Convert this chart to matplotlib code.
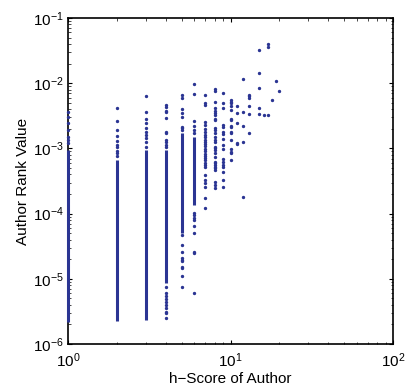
import matplotlib
matplotlib.use("Agg")
import matplotlib.pyplot as plt
from matplotlib.ticker import LogLocator, NullFormatter

plt.rcParams['font.family'] = ['Liberation Sans', 'DejaVu Sans']
plt.rcParams['mathtext.fontset'] = 'custom'
plt.rcParams['mathtext.rm'] = 'Liberation Sans'
plt.rcParams['mathtext.it'] = 'Liberation Sans'

# h-score columns where authors pile up so densely they read as a solid bar
dense_h = [1, 2, 3, 4, 5, 6]
dense_lo = [2.2e-6, 2.25e-6, 2.33e-6, 8.6e-6, 5.0e-5, 1.35e-4]
dense_hi = [9.4e-4, 6.6e-4, 9.4e-4, 9.4e-4, 1.7e-3, 1.5e-3]

# single authors, one list per h-score
rank_h1 = [3.62e-3, 3.03e-3, 2.45e-3, 1.92e-3, 1.50e-3, 1.35e-3, 1.21e-3]
rank_h2 = [4.16e-3, 2.63e-3, 1.92e-3, 1.55e-3, 1.30e-3, 1.13e-3, 1.05e-3,
           9.12e-4, 8.50e-4, 7.64e-4]
rank_h3 = [6.36e-3, 3.62e-3, 2.82e-3, 2.45e-3, 2.06e-3, 1.78e-3, 1.61e-3,
           1.44e-3, 1.25e-3, 1.05e-3]
rank_h4 = [4.63e-3, 4.32e-3, 3.75e-3, 3.62e-3, 2.93e-3, 1.78e-3, 1.72e-3,
           1.35e-3, 1.25e-3, 1.13e-3, 1.05e-3,
           7.48e-6, 6.06e-6, 5.45e-6, 4.90e-6, 4.41e-6, 3.96e-6, 3.57e-6,
           3.10e-6, 2.99e-6, 2.51e-6]
rank_h5 = [6.59e-3, 5.93e-3, 4.02e-3, 3.49e-3, 3.03e-3, 2.13e-3, 2.06e-3,
           1.92e-3, 4.70e-5, 3.30e-5, 2.58e-5, 2.08e-5, 1.94e-5, 1.87e-5,
           1.52e-5, 1.46e-5, 1.10e-5, 7.48e-6]
rank_h6 = [9.72e-3, 6.83e-3, 2.63e-3, 2.21e-3, 1.92e-3, 1.72e-3,
           1.02e-4, 9.52e-5, 8.56e-5, 7.97e-5, 6.45e-5, 5.04e-5, 2.58e-5,
           2.49e-5, 6.06e-6]
rank_h7 = [6.59e-3, 4.97e-3, 4.63e-3, 2.54e-3, 2.28e-3, 1.98e-3, 1.78e-3,
           1.61e-3, 1.50e-3, 1.35e-3, 1.25e-3, 1.17e-3, 1.09e-3, 9.79e-4,
           9.12e-4, 8.21e-4, 7.64e-4, 7.13e-4, 6.64e-4, 5.97e-4, 5.56e-4,
           5.18e-4, 3.91e-4, 3.28e-4, 2.95e-4, 2.56e-4, 1.74e-4, 1.22e-4]
rank_h8 = [8.15e-3, 7.59e-3, 5.15e-3, 4.16e-3, 3.75e-3, 3.49e-3, 3.25e-3,
           2.82e-3, 2.73e-3, 2.06e-3, 1.92e-3, 1.72e-3, 1.50e-3, 1.35e-3,
           1.25e-3, 1.05e-3, 1.01e-3, 9.4e-4, 8.50e-4, 7.38e-4, 6.18e-4,
           5.97e-4, 5.56e-4, 5.18e-4, 5.00e-4, 4.66e-4, 3.05e-4, 2.75e-4,
           2.47e-4]
rank_h9 = [7.07e-3, 4.97e-3, 4.16e-3, 2.28e-3, 2.13e-3, 1.78e-3, 1.66e-3,
           1.39e-3, 1.13e-3, 9.79e-4, 6.88e-4, 6.18e-4, 5.56e-4, 5.18e-4,
           4.35e-4, 3.28e-4, 2.56e-4]
rank_h10 = [5.52e-3, 5.15e-3, 4.97e-3, 4.47e-3, 3.88e-3, 2.82e-3, 2.73e-3,
            2.21e-3, 2.13e-3, 1.78e-3, 1.72e-3, 1.35e-3, 9.79e-4, 8.81e-4,
            8.50e-4, 6.64e-4]
rank_h11 = [4.47e-3, 3.49e-3, 2.45e-3, 1.21e-3, 1.17e-3]
rank_h12 = [1.16e-2, 3.62e-3, 2.21e-3, 1.25e-3, 1.80e-4]
rank_h13 = [6.59e-3, 6.36e-3, 5.93e-3, 4.47e-3, 3.37e-3, 1.72e-3]
rank_h15 = [3.23e-2, 1.43e-2, 8.44e-3, 4.16e-3, 3.37e-3]
rank_h16 = [3.25e-3]
rank_h17 = [3.99e-2, 3.59e-2, 3.25e-3]
rank_h18 = [5.52e-3]
rank_h19 = [1.08e-2]
rank_h20 = [7.59e-3]

columns = {1: rank_h1, 2: rank_h2, 3: rank_h3, 4: rank_h4, 5: rank_h5,
           6: rank_h6, 7: rank_h7, 8: rank_h8, 9: rank_h9, 10: rank_h10,
           11: rank_h11, 12: rank_h12, 13: rank_h13, 15: rank_h15,
           16: rank_h16, 17: rank_h17, 18: rank_h18, 19: rank_h19,
           20: rank_h20}

dot_color = '#2b3593'

fig = plt.figure(figsize=(4.06, 3.87), dpi=100)
ax = fig.add_axes([0.1675, 0.111, 0.8005, 0.8424])

ax.vlines(dense_h, dense_lo, dense_hi, colors=dot_color, linewidth=2.2,
          zorder=4, clip_on=False)
for h, vals in columns.items():
    ax.plot([h] * len(vals), vals, '.', color=dot_color, markersize=2.8,
            zorder=4, clip_on=False)

ax.set_xscale('log')
ax.set_yscale('log')
ax.set_xlim(1, 100)
ax.set_ylim(1e-6, 1e-1)

ax.xaxis.set_major_locator(LogLocator(base=10, numticks=10))
ax.yaxis.set_major_locator(LogLocator(base=10, numticks=10))
ax.xaxis.set_minor_locator(LogLocator(base=10, subs=range(2, 10), numticks=20))
ax.yaxis.set_minor_locator(LogLocator(base=10, subs=range(2, 10), numticks=20))
ax.xaxis.set_minor_formatter(NullFormatter())
ax.yaxis.set_minor_formatter(NullFormatter())

ax.tick_params(which='both', direction='in', top=True, right=True,
               labelsize=11, color='black')
ax.tick_params(which='major', length=3, width=0.8)
ax.tick_params(axis='y', which='major', pad=3)
ax.tick_params(axis='x', which='major', pad=5)
ax.tick_params(which='minor', length=1.8, width=0.5)
for s in ax.spines.values():
    s.set_linewidth(1.2)
    s.set_zorder(3)

ax.set_xlabel('h\u2212Score of Author', fontsize=11, labelpad=2)
ax.set_ylabel('Author Rank Value', fontsize=11, labelpad=2)

fig.savefig('out.png', dpi=100)
